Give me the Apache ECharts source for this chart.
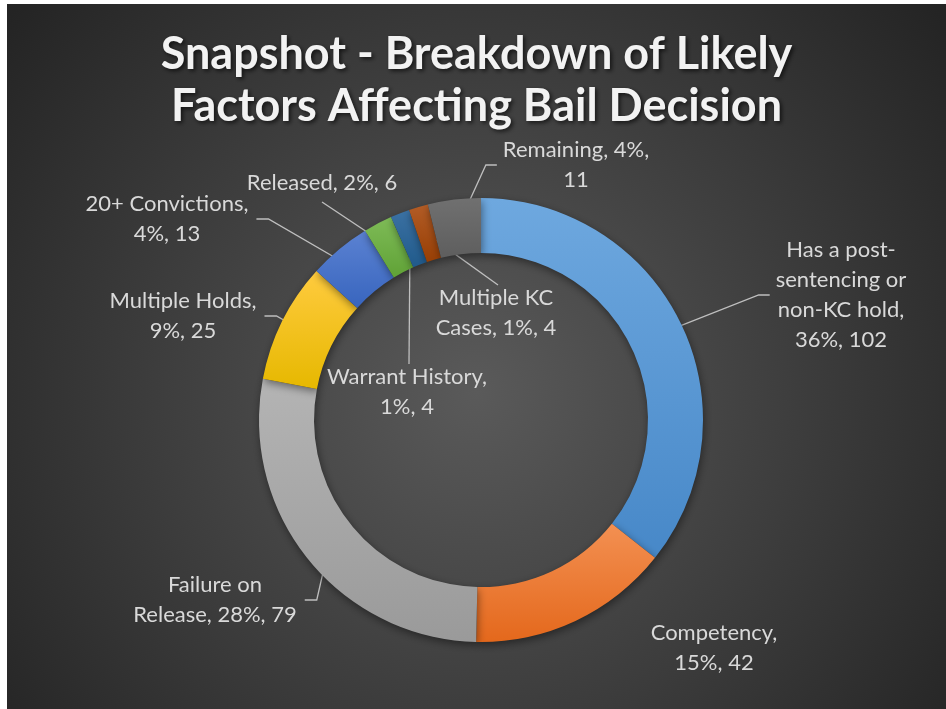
<!DOCTYPE html>
<html><head><meta charset="utf-8">
<script src="https://cdn.jsdelivr.net/npm/echarts@6/dist/echarts.min.js"></script>
<style>
html,body{margin:0;padding:0;background:#fff;width:946px;height:709px;overflow:hidden}
#c{position:absolute;left:7px;top:4px;width:939px;height:705px}
</style></head><body><div id="c"></div>
<script>
// ---- data ----
const titleText = 'Snapshot - Breakdown of Likely\nFactors Affecting Bail Decision';
const categories = ['Has a post-sentencing or non-KC hold', 'Competency', 'Failure on Release', 'Multiple Holds', '20+ Convictions', 'Released', 'Warrant History', 'Multiple KC Cases', 'Remaining'];
const values = [102, 42, 79, 25, 13, 6, 4, 4, 11];

// ---- styles / layout ----
const colorsTop    = ['#6EA8DF', '#F39052', '#B4B4B4', '#FFCB3F', '#5B82D2', '#7EBB57', '#3B71A3', '#B25C26', '#707070'];
const colorsBottom = ['#4788C8', '#E4681C', '#9A9A9A', '#E6B800', '#3865BE', '#60A236', '#205A8B', '#983F04', '#5E5E5E'];
const wrapChars = [13, 11, 16, 15, 16, 20, 16, 12, 14];
const labelPos = [[834, 291], [707, 644], [208, 596], [176, 312], [160, 215], [315, 179], [400, 388], [489, 309], [569, 161]];
const lineSide = ['left', 'none', 'right', 'right', 'right', 'bottom', 'top', 'top', 'left'];
const CX = 474, CY = 416, R0 = 167, R1 = 222;

function wrapText(s, max) {
  const tokens = s.match(/[^\s-]+-|[^\s-]+\s*|\s+/g) || [s];
  const lines = []; let cur = '';
  tokens.forEach(t => {
    if (cur && (cur + t).trimEnd().length > max) { lines.push(cur.trimEnd()); cur = t.trimStart(); }
    else cur += t;
  });
  if (cur) lines.push(cur.trimEnd());
  return lines.join('\n');
}

const total = values.reduce((a, b) => a + b, 0);
const cumBefore = values.map((v, i) => values.slice(0, i).reduce((a, b) => a + b, 0));

const seriesData = categories.map((name, i) => ({
  name, value: values[i],
  itemStyle: {
    color: { type: 'linear', x: 0, y: 0, x2: 0, y2: 1, colorStops: [{ offset: 0, color: colorsTop[i] }, { offset: 1, color: colorsBottom[i] }] }
  },
  labelLine: { show: lineSide[i] !== 'none' }
}));

const chart = echarts.init(document.getElementById('c'), null, { renderer: 'canvas' });
chart.setOption({
  backgroundColor: { type: 'radial', x: 0.5, y: 0.55, r: 0.85, colorStops: [{ offset: 0, color: '#5A5A5A' }, { offset: 1, color: '#242424' }] },
  animation: false,
  title: {
    text: titleText, left: 'center', top: 19,
    textStyle: {
      color: '#F2F2F2', fontFamily: 'Lato', fontWeight: 'bold', fontSize: 45, lineHeight: 52,
      textShadowColor: 'rgba(0,0,0,0.65)', textShadowBlur: 4, textShadowOffsetX: 2, textShadowOffsetY: 2
    }
  },
  series: [{
    type: 'pie',
    center: [CX, CY],
    radius: [R0, R1],
    startAngle: 90,
    clockwise: true,
    avoidLabelOverlap: false,
    percentPrecision: 0,
    itemStyle: { borderWidth: 0, shadowColor: 'rgba(0,0,0,0.45)', shadowBlur: 8, shadowOffsetX: 1, shadowOffsetY: 3 },
    label: {
      show: true, position: 'outside', color: '#D9D9D9', fontFamily: 'Lato', fontSize: 22, lineHeight: 30,
      formatter: p => wrapText(p.name + ', ' + p.percent + '%, ' + p.value, wrapChars[p.dataIndex])
    },
    labelLine: { show: true, lineStyle: { color: '#BFBFBF', width: 1.3 } },
    emphasis: { disabled: true },
    labelLayout: function (params) {
      const i = params.dataIndex;
      const [x, y] = labelPos[i];
      const w = params.labelRect.width, h = params.labelRect.height;
      const mid = (90 - 360 * (cumBefore[i] + values[i] / 2) / total) * Math.PI / 180;
      const rm = (R0 + R1) / 2;
      const a = [CX + rm * Math.cos(mid), CY - rm * Math.sin(mid)];
      let pts;
      const side = lineSide[i];
      if (side === 'left') { const e = x - w / 2 - 6; pts = [a, [e - 11, y], [e, y]]; }
      else if (side === 'right') { const e = x + w / 2 + 8; pts = [a, [e + 12, y], [e, y]]; }
      else if (side === 'bottom') { const e = [x, y + h / 2 + 4]; pts = [a, e, e]; }
      else if (side === 'top') { const e = [x + 2, y - h / 2 + 2]; pts = [a, e, e]; }
      else { pts = [a, a, a]; }
      return { x, y, align: 'center', verticalAlign: 'middle', labelLinePoints: pts };
    },
    data: seriesData
  }]
});
</script></body></html>
